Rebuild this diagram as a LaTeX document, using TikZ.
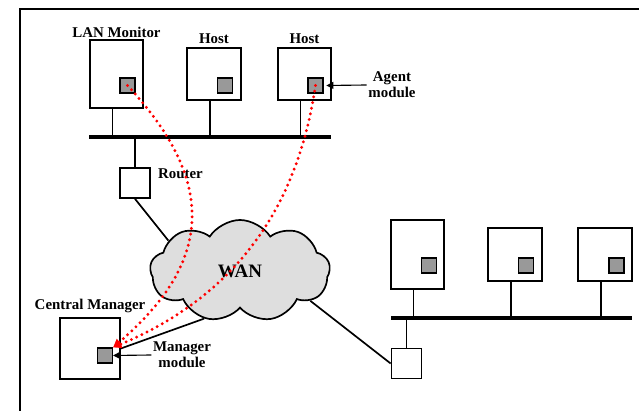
\documentclass[tikz,border=0pt]{standalone}
\usepackage{fontspec}
\setmainfont{Liberation Serif}
\usetikzlibrary{positioning,shapes.symbols,arrows.meta}

\tikzset{
  station/.style={draw, line width=1.2pt, fill=white, inner sep=0pt, minimum width=1.34cm},
  module/.style={draw, line width=0.8pt, fill=black!40, inner sep=0pt, minimum size=0.375cm},
  router/.style={draw, line width=1.2pt, fill=white, inner sep=0pt, minimum size=0.75cm},
  lbl/.style={font=\fontsize{10.6}{11.5}\selectfont\bfseries, inner sep=1pt, align=center},
  wire/.style={line width=1.2pt},
  bus/.style={line width=2.5pt},
  poll/.style={red, line width=2.3pt, dash pattern=on 0pt off 4.1pt, line cap=round,
    -{Triangle[length=6pt,width=5.5pt,fill=red]}},
  pointer/.style={line width=0.8pt, -{Triangle[length=5pt,width=5pt]}}
}

\begin{document}
\begin{tikzpicture}[x=0.025cm, y=-0.025cm]
        \useasboundingbox (0,0) rectangle (639,411);

        % Frame
        \draw[line width=1.3pt] (20,411) -- (20,9) -- (639,9);

        % Upper LAN
        \node[station, minimum height=1.7cm] (lanmon) at (116.5,74) {};
        \node[station, minimum height=1.3cm] (host1) at (214,74) {};
        \node[station, minimum height=1.3cm] (host2) at (304.5,74) {};
        \node[module] (lanmod) at (127.5,85.5) {};
        \node[module] (hmod1) at (225,85.5) {};
        \node[module] (hmod2) at (315.5,85.5) {};

        \node[lbl, above=0pt of lanmon] {LAN Monitor};
        \node[lbl, above=1pt of host1] {Host};
        \node[lbl, above=1pt of host2] {Host};

        \coordinate (buswa) at (89,137);
        \coordinate (busea) at (331,137);
        \draw[bus] (buswa) -- (busea);
        \draw[wire] ([xshift=-1mm]lanmon.south) -- ([xshift=-1mm]lanmon.south |- buswa);
        \draw[wire] ([xshift=-1mm]host1.south) -- ([xshift=-1mm]host1.south |- buswa);
        \draw[wire] ([xshift=-1mm]host2.south) -- ([xshift=-1mm]host2.south |- buswa);

        \node[router] (routera) at (135,183) {};
        \node[lbl, anchor=north west] at ([xshift=4pt]routera.north east) {Router};
        \draw[wire] (routera.north) -- (routera.north |- buswa);

        % Agent module
        \node[lbl] (agent) at (392,85) {Agent\\module};
        \draw[pointer] (agent.west) -- ([xshift=2pt]hmod2.east);

        % WAN
        \node[cloud, draw, line width=1.2pt, fill=black!13, cloud puffs=9, cloud puff arc=115,
          aspect=1.8, inner sep=0pt, minimum width=4.5cm, minimum height=2.55cm,
          font=\fontsize{13.5}{14}\selectfont\bfseries] (wan) at (240,271) {WAN};

        % Central manager
        \node[station, minimum width=1.5cm, minimum height=1.53cm] (mgr) at (90,348.5) {};
        \node[module] (mgrmod) at (105,355.5) {};
        \node[lbl, above=2pt of mgr] {Central Manager};
        \node[lbl] (mgrtext) at (182,355) {Manager\\module};
        \draw[pointer] (mgrtext.west) -- (mgrmod.east);

        % Lower LAN
        \node[station, minimum height=1.72cm] (rhost1) at (417.5,254.5) {};
        \node[station, minimum height=1.32cm] (rhost2) at (515,254.5) {};
        \node[station, minimum height=1.32cm] (rhost3) at (605,254.5) {};
        \node[module] (rmod1) at (429,265.5) {};
        \node[module] (rmod2) at (526,265.5) {};
        \node[module] (rmod3) at (616.5,265.5) {};

        \coordinate (buswb) at (391,318);
        \coordinate (buseb) at (632,318);
        \draw[bus] (buswb) -- (buseb);
        \draw[wire] ([xshift=-1mm]rhost1.south) -- ([xshift=-1mm]rhost1.south |- buswb);
        \draw[wire] ([xshift=-1mm]rhost2.south) -- ([xshift=-1mm]rhost2.south |- buswb);
        \draw[wire] ([xshift=-1mm]rhost3.south) -- ([xshift=-1mm]rhost3.south |- buswb);

        \node[router] (routerb) at (406.5,363.5) {};
        \draw[wire] (routerb.north) -- (routerb.north |- buswb);

        % Links to the WAN
        \draw[wire] (routera.south) -- (wan.157);
        \draw[wire] (mgr.east) -- (wan.233);
        \draw[wire] (wan.337) -- (routerb.west);

        % Polling paths
        \draw[poll] (lanmod.center) .. controls (215,180) and (215,260) .. (mgrmod.north east);
        \draw[poll] (hmod2.center) .. controls (300,190) and (250,290) .. (mgrmod.north east);
    \end{tikzpicture}
\end{document}
